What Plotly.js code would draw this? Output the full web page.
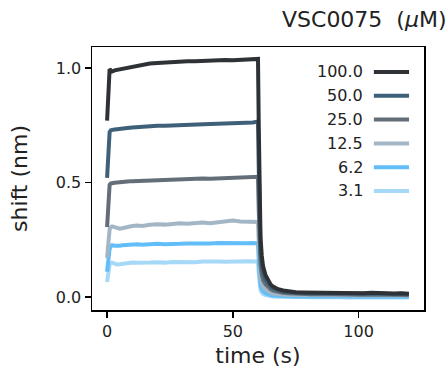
<!DOCTYPE html>
<html>
<head>
<meta charset="utf-8">
<script src="https://cdn.plot.ly/plotly-3.0.1.min.js"></script>
<style>
html,body{margin:0;padding:0;background:#fff;}
#chart{width:447px;height:368px;}
</style>
</head>
<body>
<div id="chart"></div>
<script>
// ---- data ----
const time = [0, 0.5, 1, 1.5, 2, 3, 4, 5, 6, 8,
  10, 12, 14, 17, 20, 23, 26, 29, 32, 35,
  38, 41, 44, 47, 50, 53, 56, 58, 59.5, 60,
  60.3, 60.7, 61, 61.5, 62, 63, 64, 65, 66, 68,
  70, 72, 75, 78, 81, 84, 87, 90, 93, 96,
  99, 102, 105, 108, 111, 114, 117, 120];

const concentrations = ["100.0", "50.0", "25.0", "12.5", "6.2", "3.1"];
const colors = ["#2e3236", "#3e6078", "#646e78", "#a2b6c6", "#62bef8", "#a6d8f7"];

const shift100 = [0.77, 0.90, 0.995, 0.99, 0.985, 0.99, 0.992, 0.995, 0.998, 1.002,
  1.008, 1.010, 1.015, 1.020, 1.022, 1.025, 1.024, 1.028, 1.030, 1.030,
  1.032, 1.031, 1.034, 1.035, 1.034, 1.036, 1.037, 1.038, 1.040, 1.040,
  0.75, 0.40, 0.26, 0.18, 0.135, 0.095, 0.070, 0.055, 0.045, 0.034,
  0.028, 0.024, 0.021, 0.020, 0.019, 0.020, 0.018, 0.017, 0.018, 0.016,
  0.017, 0.016, 0.018, 0.016, 0.017, 0.015, 0.016, 0.014];
const shift50 = [0.52, 0.66, 0.72, 0.728, 0.730, 0.732, 0.733, 0.735, 0.736, 0.738,
  0.740, 0.742, 0.743, 0.746, 0.748, 0.748, 0.750, 0.752, 0.751, 0.754,
  0.755, 0.756, 0.757, 0.758, 0.757, 0.760, 0.762, 0.762, 0.765, 0.765,
  0.56, 0.30, 0.20, 0.14, 0.105, 0.075, 0.056, 0.045, 0.037, 0.028,
  0.023, 0.020, 0.018, 0.017, 0.016, 0.017, 0.015, 0.015, 0.016, 0.014,
  0.015, 0.014, 0.015, 0.013, 0.014, 0.013, 0.014, 0.012];
const shift25 = [0.305, 0.43, 0.49, 0.496, 0.498, 0.499, 0.500, 0.502, 0.503, 0.504,
  0.506, 0.507, 0.508, 0.510, 0.512, 0.511, 0.514, 0.515, 0.514, 0.516,
  0.517, 0.516, 0.518, 0.520, 0.519, 0.521, 0.522, 0.523, 0.525, 0.525,
  0.38, 0.21, 0.14, 0.10, 0.075, 0.055, 0.042, 0.034, 0.028, 0.022,
  0.018, 0.016, 0.014, 0.013, 0.012, 0.013, 0.012, 0.011, 0.012, 0.011,
  0.012, 0.010, 0.011, 0.010, 0.011, 0.010, 0.011, 0.009];
const shift12 = [0.17, 0.26, 0.295, 0.305, 0.308, 0.305, 0.300, 0.298, 0.300, 0.306,
  0.310, 0.312, 0.310, 0.315, 0.318, 0.316, 0.320, 0.322, 0.320, 0.323,
  0.325, 0.322, 0.326, 0.330, 0.334, 0.330, 0.328, 0.330, 0.330, 0.328,
  0.24, 0.13, 0.085, 0.060, 0.045, 0.032, 0.024, 0.019, 0.015, 0.012,
  0.010, 0.009, 0.008, 0.008, 0.007, 0.008, 0.007, 0.007, 0.008, 0.006,
  0.007, 0.006, 0.007, 0.006, 0.007, 0.006, 0.007, 0.006];
const shift6 = [0.11, 0.18, 0.21, 0.222, 0.226, 0.224, 0.222, 0.224, 0.226, 0.228,
  0.229, 0.230, 0.228, 0.231, 0.232, 0.230, 0.233, 0.232, 0.234, 0.233,
  0.235, 0.234, 0.236, 0.235, 0.234, 0.236, 0.235, 0.236, 0.235, 0.234,
  0.16, 0.08, 0.050, 0.035, 0.025, 0.016, 0.011, 0.008, 0.006, 0.004,
  0.003, 0.003, 0.002, 0.002, 0.001, 0.002, 0.001, 0.001, 0.002, 0.001,
  0.002, 0.001, 0.002, 0.001, 0.002, 0.001, 0.002, 0.001];
const shift3 = [0.065, 0.12, 0.142, 0.148, 0.150, 0.146, 0.142, 0.143, 0.145, 0.148,
  0.150, 0.149, 0.151, 0.150, 0.152, 0.150, 0.153, 0.152, 0.154, 0.152,
  0.155, 0.153, 0.155, 0.154, 0.156, 0.155, 0.156, 0.155, 0.156, 0.155,
  0.10, 0.05, 0.030, 0.020, 0.013, 0.008, 0.005, 0.003, 0.002, 0.001,
  0.000, 0.000, -0.001, 0.000, -0.001, 0.000, -0.001, -0.002, -0.001, -0.002,
  -0.001, -0.002, -0.001, -0.002, -0.001, -0.002, -0.001, -0.002];

const series = [shift100, shift50, shift25, shift12, shift6, shift3];
const legendTitle = "VSC0075&nbsp;&nbsp;(<i>μ</i>M)";
const xTitle = "time (s)";
const yTitle = "shift (nm)";
const xTicks = [0, 50, 100];
const yTicks = [0.0, 0.5, 1.0];

// ---- chart ----
const FONT = "DejaVu Sans, sans-serif";
const TXT = "#222";

const traces = [];
for (let i = series.length - 1; i >= 0; i--) {
  traces.push({
    x: time, y: series[i], type: "scatter", mode: "lines",
    name: concentrations[i],
    line: {color: colors[i], width: 4},
    showlegend: false, hoverinfo: "skip"
  });
}

const annotations = [{
  text: legendTitle, xref: "paper", yref: "paper",
  x: 1.075, y: 1.103, xanchor: "right", yanchor: "middle",
  showarrow: false, font: {family: FONT, size: 22, color: TXT}
}];
const shapes = [];
const rowTop = 0.905, rowStep = 0.0905;
for (let i = 0; i < concentrations.length; i++) {
  const yy = rowTop - i * rowStep;
  annotations.push({
    text: concentrations[i], xref: "paper", yref: "paper",
    x: 0.822, y: yy, xanchor: "right", yanchor: "middle",
    showarrow: false, font: {family: FONT, size: 16, color: TXT}
  });
  shapes.push({
    type: "line", xref: "paper", yref: "paper",
    x0: 0.849, x1: 0.955, y0: yy, y1: yy,
    line: {color: colors[i], width: 4}
  });
}

const layout = {
  width: 447, height: 368,
  margin: {l: 92, r: 23, t: 47, b: 58},
  paper_bgcolor: "#fff", plot_bgcolor: "#fff",
  font: {family: FONT, color: TXT, size: 16},
  showlegend: false,
  xaxis: {
    range: [-6, 126], tickvals: xTicks, ticktext: xTicks.map(String),
    ticks: "outside", ticklen: 6, tickwidth: 1.5, tickcolor: "#000",
    showline: true, linecolor: "#000", linewidth: 1.5, mirror: true,
    showgrid: false, zeroline: false,
    tickfont: {family: FONT, size: 16, color: TXT},
    title: {text: xTitle, font: {family: FONT, size: 22, color: TXT}, standoff: 13}
  },
  yaxis: {
    range: [-0.057, 1.092], tickvals: yTicks, ticktext: yTicks.map(v => v.toFixed(1)),
    ticks: "outside", ticklen: 6, tickwidth: 1.5, tickcolor: "#000",
    showline: true, linecolor: "#000", linewidth: 1.5, mirror: true,
    showgrid: false, zeroline: false,
    tickfont: {family: FONT, size: 16, color: TXT},
    title: {text: yTitle, font: {family: FONT, size: 22, color: TXT}, standoff: 22}
  },
  annotations: annotations,
  shapes: shapes
};

Plotly.newPlot("chart", traces, layout, {displayModeBar: false, staticPlot: true});
</script>
</body>
</html>
